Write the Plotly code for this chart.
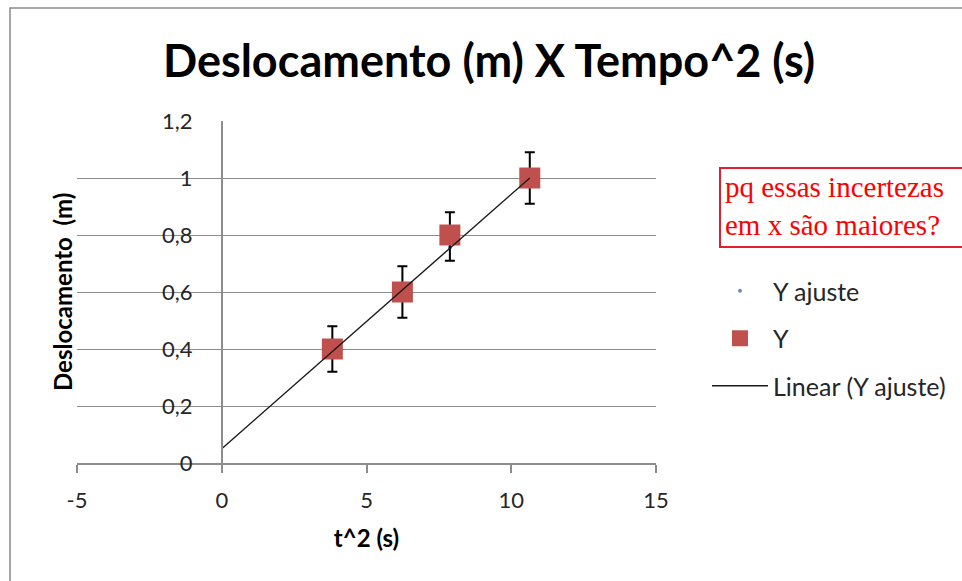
import plotly.graph_objects as go

# ---- data ----
t2_values = [3.82, 6.24, 7.88, 10.64]          # t^2 (s)
y_values = [0.40, 0.60, 0.80, 1.00]            # Deslocamento (m)
y_err_plus = [0.08, 0.09, 0.08, 0.09]
y_err_minus = [0.08, 0.09, 0.09, 0.09]
y_ajuste = [0.39, 0.61, 0.755, 1.00]           # fitted values (tiny markers)
fit_x = [0.0, 10.64]                            # Linear (Y ajuste) trend line
fit_y = [0.05, 1.00]
x_tick_vals = [-5, 0, 5, 10, 15]
x_tick_text = ["-5", "0", "5", "10", "15"]
y_tick_vals = [0, 0.2, 0.4, 0.6, 0.8, 1.0, 1.2]
y_tick_text = ["0", "0,2", "0,4", "0,6", "0,8", "1", "1,2"]
note_lines = ["pq essas incertezas", "em x são maiores?"]

W, H = 962, 581
L, R, T, B = 77, 656, 121, 463   # plot area pixels


def px_x(p):
    return (p - L) / (R - L)


def px_y(p):
    return (B - p) / (B - T)


FONT = "Lato, 'Open Sans', sans-serif"
TXT = "#262626"
GRID = "#8c8c8c"

fig = go.Figure()

fig.add_trace(go.Scatter(
    x=t2_values, y=y_ajuste, mode="markers", name="Y ajuste",
    legendgroup="a", marker=dict(symbol="circle", size=4, color="#6C8EBF"),
))
fig.add_trace(go.Scatter(
    x=t2_values, y=y_values, mode="markers", name="Y", legendgroup="b",
    marker=dict(symbol="square", size=21, color="#C0504D"),
    error_y=dict(type="data", array=y_err_plus, arrayminus=y_err_minus,
                 color="#000000", thickness=2, width=5),
))
fig.add_trace(go.Scatter(
    x=fit_x, y=fit_y, mode="lines", name="Linear (Y ajuste)", legendgroup="c",
    line=dict(color="#1a1a1a", width=1.4),
))

shapes = [
    # chart frame
    dict(type="rect", xref="paper", yref="paper",
         x0=px_x(10), x1=px_x(1010), y0=px_y(8), y1=px_y(640),
         line=dict(color="#8a8a8a", width=1.5), layer="below"),
    # annotation box
    dict(type="rect", xref="paper", yref="paper",
         x0=px_x(720), x1=px_x(1010), y0=px_y(168), y1=px_y(247),
         line=dict(color="#E0202F", width=2)),
]

NOTE_FONT = dict(family="'Liberation Serif', 'Times New Roman', serif",
                 size=29, color="#FF0000")
annotations = [
    dict(text="<b>Deslocamento\u00a0\u00a0(m)</b>", xref="paper", yref="paper",
         x=px_x(62), y=px_y(292), textangle=-90, showarrow=False,
         font=dict(family=FONT, size=24, color="#000000"),
         xanchor="center", yanchor="middle"),
    dict(text="<br>".join(note_lines), xref="paper", yref="paper",
         x=px_x(723), y=px_y(206), showarrow=False, align="left",
         xanchor="left", yanchor="middle", font=NOTE_FONT),
]

fig.update_layout(
    width=W, height=H,
    margin=dict(l=L, r=W - R, t=T, b=H - B, autoexpand=False),
    paper_bgcolor="white", plot_bgcolor="white",
    title=dict(text="<b>Deslocamento (m) X Tempo^2 (s)</b>", x=489 / W, xref="container",
               xanchor="center", y=1 - 61 / H, yref="container", yanchor="middle",
               font=dict(family=FONT, size=45, color="#000000")),
    xaxis=dict(range=[-5, 15], tickvals=x_tick_vals, ticktext=x_tick_text,
               showgrid=False, zeroline=False, showline=True, linecolor=GRID,
               linewidth=1.5, ticks="outside", ticklen=8, tickcolor=GRID,
               tickwidth=1.5, ticklabelstandoff=9,
               tickfont=dict(family=FONT, size=22, color=TXT)),
    yaxis=dict(range=[0, 1.2], tickvals=y_tick_vals, ticktext=y_tick_text,
               anchor="free", position=0.25, showgrid=True, gridcolor=GRID,
               gridwidth=1.2, zeroline=False, showline=True, linecolor=GRID,
               linewidth=1.5, ticks="", ticklabelstandoff=24,
               tickfont=dict(family=FONT, size=22, color=TXT)),
    showlegend=True,
    legend=dict(x=px_x(707), y=px_y(268), xanchor="left", yanchor="top",
                tracegroupgap=12, bgcolor="rgba(0,0,0,0)", itemwidth=56,
                font=dict(family=FONT, size=25, color=TXT)),
    shapes=shapes, annotations=annotations,
)
fig.update_xaxes(title=dict(text="<b>t^2 (s)</b>", standoff=18,
                            font=dict(family=FONT, size=24, color="#000000")))

fig.write_html("out.html")
